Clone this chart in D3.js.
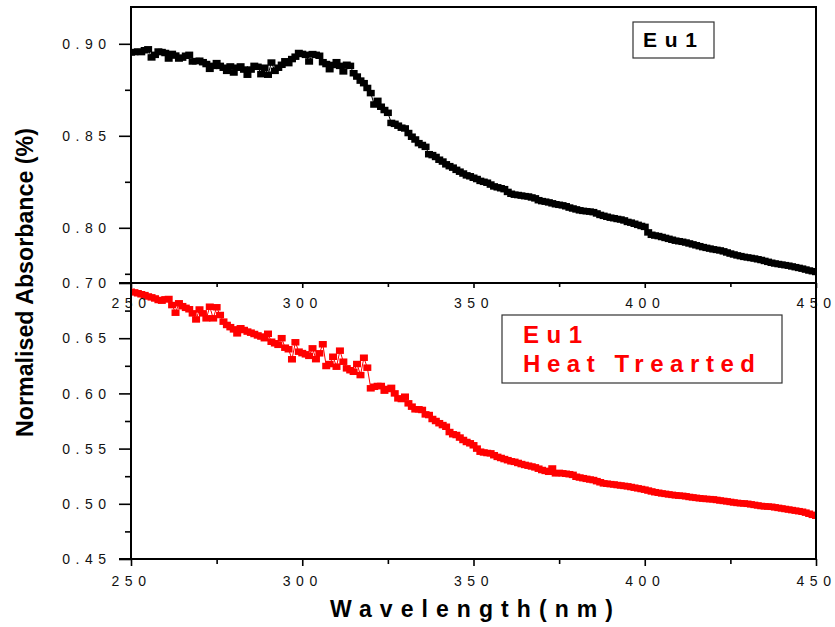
<!DOCTYPE html>
<html><head><meta charset="utf-8">
<script src="https://cdn.jsdelivr.net/npm/d3@7"></script>
<style>
body{margin:0;background:#fff}
svg{display:block}
text{font-family:"Liberation Sans",Arial,Helvetica,sans-serif}
</style></head><body>
<svg id="c" width="835" height="627"></svg>
<script>
// ---- data ----
const wavelengthStart = 250;
const wavelengthStep = 1;
const eu1Values = [
0.8953,0.8955,0.8958,0.8955,0.8965,0.8970,0.8926,0.8940,0.8958,0.8955,
0.8950,0.8920,0.8945,0.8936,0.8920,0.8925,0.8935,0.8940,0.8904,0.8906,
0.8908,0.8900,0.8890,0.8864,0.8880,0.8895,0.8880,0.8870,0.8853,0.8877,
0.8844,0.8870,0.8877,0.8860,0.8832,0.8860,0.8880,0.8875,0.8835,0.8870,
0.8832,0.8898,0.8853,0.8870,0.8886,0.8905,0.8895,0.8917,0.8930,0.8950,
0.8945,0.8940,0.8904,0.8944,0.8940,0.8935,0.8900,0.8890,0.8862,0.8885,
0.8900,0.8880,0.8850,0.8886,0.8880,0.8840,0.8822,0.8800,0.8786,0.8760,
0.8732,0.8670,0.8690,0.8658,0.8640,0.8625,0.8570,0.8565,0.8555,0.8544,
0.8540,0.8515,0.8495,0.8480,0.8460,0.8450,0.8440,0.8400,0.8395,0.8385,
0.8370,0.8360,0.8345,0.8335,0.8327,0.8315,0.8305,0.8295,0.8285,0.8280,
0.8272,0.8265,0.8255,0.8250,0.8245,0.8235,0.8225,0.8220,0.8215,0.8210,
0.8195,0.8185,0.8180,0.8178,0.8175,0.8172,0.8170,0.8165,0.8160,0.8150,
0.8145,0.8142,0.8138,0.8133,0.8128,0.8125,0.8122,0.8117,0.8110,0.8105,
0.8100,0.8095,0.8092,0.8090,0.8088,0.8085,0.8078,0.8070,0.8065,0.8060,
0.8055,0.8052,0.8048,0.8045,0.8040,0.8032,0.8028,0.8022,0.8016,0.8010,
0.8005,0.7975,0.7962,0.7958,0.7955,0.7950,0.7945,0.7940,0.7935,0.7930,
0.7927,0.7924,0.7920,0.7915,0.7910,0.7905,0.7900,0.7895,0.7891,0.7887,
0.7883,0.7880,0.7877,0.7872,0.7866,0.7860,0.7855,0.7850,0.7846,0.7842,
0.7839,0.7836,0.7833,0.7829,0.7825,0.7820,0.7815,0.7810,0.7806,0.7803,
0.7800,0.7797,0.7794,0.7790,0.7786,0.7782,0.7778,0.7773,0.7768,0.7764,
0.7760];
const eu1HeatValues = [
0.6921,0.6915,0.6907,0.6898,0.6890,0.6878,0.6870,0.6860,0.6846,0.6840,
0.6852,0.6855,0.6800,0.6731,0.6816,0.6790,0.6775,0.6762,0.6725,0.6670,
0.6760,0.6725,0.6680,0.6785,0.6680,0.6780,0.6710,0.6650,0.6620,0.6600,
0.6580,0.6544,0.6590,0.6574,0.6560,0.6550,0.6538,0.6525,0.6515,0.6500,
0.6540,0.6468,0.6454,0.6440,0.6500,0.6414,0.6400,0.6309,0.6463,0.6378,
0.6365,0.6354,0.6340,0.6408,0.6310,0.6363,0.6445,0.6248,0.6266,0.6332,
0.6242,0.6387,0.6287,0.6227,0.6210,0.6196,0.6266,0.6166,0.6323,0.6233,
0.6046,0.6060,0.6067,0.6067,0.6025,0.6040,0.6050,0.6000,0.5955,0.5949,
0.5970,0.5910,0.5880,0.5856,0.5856,0.5850,0.5810,0.5804,0.5768,0.5750,
0.5730,0.5713,0.5698,0.5650,0.5630,0.5623,0.5600,0.5578,0.5560,0.5548,
0.5530,0.5500,0.5472,0.5465,0.5460,0.5457,0.5440,0.5425,0.5415,0.5405,
0.5395,0.5385,0.5380,0.5370,0.5360,0.5352,0.5345,0.5338,0.5330,0.5318,
0.5306,0.5298,0.5290,0.5320,0.5276,0.5280,0.5276,0.5272,0.5268,0.5262,
0.5245,0.5238,0.5232,0.5226,0.5220,0.5215,0.5205,0.5195,0.5185,0.5182,
0.5178,0.5175,0.5170,0.5166,0.5162,0.5158,0.5152,0.5146,0.5140,0.5134,
0.5128,0.5120,0.5112,0.5105,0.5100,0.5094,0.5090,0.5085,0.5081,0.5077,
0.5074,0.5072,0.5068,0.5062,0.5058,0.5054,0.5050,0.5047,0.5044,0.5042,
0.5040,0.5035,0.5030,0.5026,0.5022,0.5017,0.5012,0.5008,0.5005,0.5003,
0.5000,0.4995,0.4990,0.4985,0.4980,0.4977,0.4975,0.4973,0.4968,0.4963,
0.4958,0.4953,0.4948,0.4943,0.4938,0.4933,0.4928,0.4920,0.4910,0.4900,
0.4892];
const xTicks = [250, 300, 350, 400, 450];
const xMinorTicks = [275, 325, 375, 425];
const topYTicks = [0.80, 0.85, 0.90];
const topYMinorTicks = [0.775, 0.825, 0.875];
const bottomYTicks = [0.45, 0.50, 0.55, 0.60, 0.65, 0.70];
const bottomYMinorTicks = [0.475, 0.525, 0.575, 0.625, 0.675];
const topLegend = ["Eu1"];
const bottomLegend = ["Eu1", "Heat Trearted"];
const yTitle = "Normalised Absorbance (%)";
const xTitle = "Wavelength(nm)";

// ---- layout ----
const L = 131, R = 816, T = 7, MID = 283, B = 559;
const svg = d3.select("#c");
const x = d3.scaleLinear().domain([250, 450]).range([L, R]);
const yTop = d3.scaleLinear().domain([0.77, 0.92]).range([MID, T]);
const yBot = d3.scaleLinear().domain([0.45, 0.70]).range([B, MID]);

const defs = svg.append("defs");
defs.append("clipPath").attr("id", "clipTop").append("rect")
  .attr("x", L).attr("y", T).attr("width", R - L).attr("height", MID - T);
defs.append("clipPath").attr("id", "clipBot").append("rect")
  .attr("x", L).attr("y", MID).attr("width", R - L).attr("height", B - MID);

function series(vals, y, color, clip) {
  const pts = vals.map((v, i) => [wavelengthStart + i * wavelengthStep, v]);
  const g = svg.append("g").attr("clip-path", `url(#${clip})`);
  g.append("path").datum(pts)
    .attr("d", d3.line().x(d => x(d[0])).y(d => y(d[1])))
    .attr("fill", "none").attr("stroke", color).attr("stroke-width", 1);
  const mw = 8, mh = 6.5;
  g.selectAll("rect.m").data(pts).join("rect").attr("class", "m")
    .attr("x", d => x(d[0]) - mw / 2).attr("y", d => y(d[1]) - mh / 2)
    .attr("width", mw).attr("height", mh).attr("fill", color);
}
series(eu1Values, yTop, "#000", "clipTop");
series(eu1HeatValues, yBot, "#ff0000", "clipBot");

const LS = 5.5;
function styleY(g) {
  g.select(".domain").remove();
  g.selectAll("line").attr("stroke", "#000").attr("stroke-width", 1.6);
  g.selectAll("text").attr("font-size", 14).attr("fill", "#111")
    .style("letter-spacing", LS + "px")
    .attr("x", -25 + LS).attr("dy", "0.34em");
}
function styleX(g, off) {
  g.select(".domain").remove();
  g.selectAll("line").attr("stroke", "#000").attr("stroke-width", 1.6);
  g.selectAll("text").attr("font-size", 14).attr("fill", "#111")
    .style("letter-spacing", LS + "px")
    .attr("y", off).attr("dy", 0);
}

// y axes
svg.append("g").attr("transform", `translate(${L},0)`)
  .call(d3.axisLeft(yTop).tickValues(topYTicks).tickSize(12).tickFormat(d3.format(".2f")))
  .call(styleY);
svg.append("g").attr("transform", `translate(${L},0)`)
  .call(d3.axisLeft(yTop).tickValues(topYMinorTicks).tickSize(6).tickFormat(""))
  .call(styleY);
svg.append("g").attr("transform", `translate(${L},0)`)
  .call(d3.axisLeft(yBot).tickValues(bottomYTicks).tickSize(12).tickFormat(d3.format(".2f")))
  .call(styleY);
svg.append("g").attr("transform", `translate(${L},0)`)
  .call(d3.axisLeft(yBot).tickValues(bottomYMinorTicks).tickSize(6).tickFormat(""))
  .call(styleY);

// x axes
svg.append("g").attr("transform", `translate(0,${MID})`)
  .call(d3.axisBottom(x).tickValues(xTicks).tickSize(5).tickFormat(d3.format("d")))
  .call(g => styleX(g, 25));
svg.append("g").attr("transform", `translate(0,${MID})`)
  .call(d3.axisBottom(x).tickValues(xMinorTicks).tickSize(4).tickFormat(""))
  .call(g => styleX(g, 25));
svg.append("g").attr("transform", `translate(0,${B})`)
  .call(d3.axisBottom(x).tickValues(xTicks).tickSize(7).tickFormat(d3.format("d")))
  .call(g => styleX(g, 27));
svg.append("g").attr("transform", `translate(0,${B})`)
  .call(d3.axisBottom(x).tickValues(xMinorTicks).tickSize(5).tickFormat(""))
  .call(g => styleX(g, 27));

// frame lines
const frame = svg.append("g").attr("stroke", "#000").attr("stroke-width", 2).attr("fill", "none");
frame.append("line").attr("x1", L).attr("x2", R + 1).attr("y1", T).attr("y2", T);
frame.append("line").attr("x1", L).attr("x2", L).attr("y1", T - 1).attr("y2", B + 1);
frame.append("line").attr("x1", R).attr("x2", R).attr("y1", T - 1).attr("y2", B + 1);
frame.append("line").attr("x1", L - 12).attr("x2", R).attr("y1", MID).attr("y2", MID);
frame.append("line").attr("x1", L - 12).attr("x2", R).attr("y1", B).attr("y2", B);

// titles
svg.append("text")
  .attr("transform", `translate(33,${(128 + 437) / 2}) rotate(-90)`)
  .attr("text-anchor", "middle").attr("font-weight", "bold").attr("font-size", 23)
  .attr("textLength", 309).attr("lengthAdjust", "spacingAndGlyphs")
  .text(yTitle);
svg.append("text")
  .attr("x", 330).attr("y", 617)
  .attr("font-weight", "bold").attr("font-size", 23)
  .attr("textLength", 283).attr("lengthAdjust", "spacing")
  .text(xTitle);

// legends
svg.append("rect").attr("x", 633).attr("y", 22).attr("width", 81).attr("height", 36)
  .attr("fill", "#fff").attr("stroke", "#333").attr("stroke-width", 1.2);
svg.append("text").attr("x", 643).attr("y", 47).attr("font-weight", "bold").attr("font-size", 21)
  .attr("textLength", 54).attr("lengthAdjust", "spacing").attr("fill", "#000").text(topLegend[0]);

svg.append("rect").attr("x", 502).attr("y", 315).attr("width", 280).attr("height", 68)
  .attr("fill", "#fff").attr("stroke", "#333").attr("stroke-width", 1.2);
const lw = [59, 232], ly = [343, 372];
bottomLegend.forEach((t, i) => {
  svg.append("text").attr("x", 523).attr("y", ly[i]).attr("font-weight", "bold").attr("font-size", 24)
    .attr("textLength", lw[i]).attr("lengthAdjust", "spacing").attr("fill", "#ff0000").text(t);
});
</script>
</body></html>
